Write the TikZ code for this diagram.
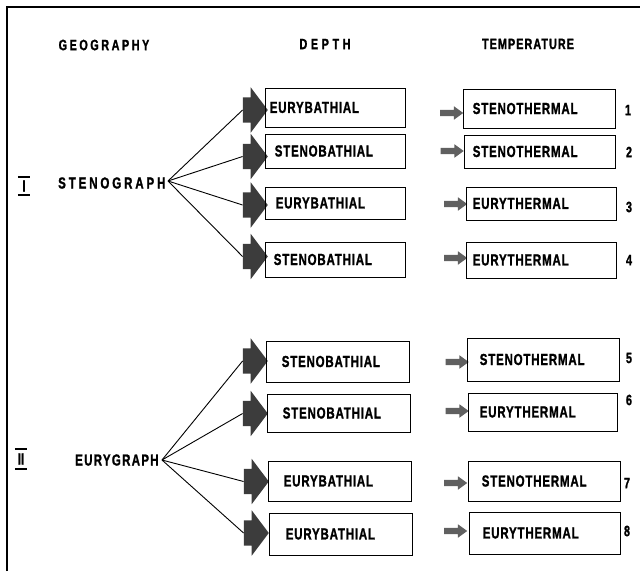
\documentclass[tikz,border=0pt]{standalone}
\usepackage{fontspec}
\setmainfont{Liberation Sans}[FakeStretch=0.72, BoldFeatures={FakeBold=1.2}]
\usetikzlibrary{shapes.arrows}
\definecolor{arrdark}{HTML}{3C3C3C}
\definecolor{arrgray}{HTML}{606060}
\tikzset{
  bx/.style={draw, line width=0.9pt, inner sep=0pt},
  lab/.style={inner sep=0pt, font=\fontsize{16}{16}\selectfont\bfseries\addfontfeature{LetterSpace=5}},
  head/.style={inner sep=0pt, font=\fontsize{15}{15}\selectfont\bfseries},
  grp/.style={inner sep=0pt, font=\fontsize{16}{16}\selectfont\bfseries},
  num/.style={inner sep=0pt, font=\fontsize{15}{15}\selectfont\bfseries},
  bigarr/.style={single arrow, fill=arrdark, draw=none, inner sep=0pt,
    text height=12.5pt, text depth=12.5pt,
    minimum height=25pt, minimum width=45pt, single arrow head extend=10pt,
    single arrow head indent=0pt, single arrow tip angle=106},
  smallarr/.style={single arrow, fill=arrgray, draw=none, inner sep=0pt,
    text height=3pt, text depth=3pt,
    minimum height=23pt, minimum width=13pt, single arrow head extend=3.5pt,
    single arrow head indent=0pt, single arrow tip angle=72},
  conn/.style={line width=0.9pt},
  roman/.style={inner sep=0pt, font=\fontsize{16}{16}\selectfont\bfseries},
  bar/.style={line width=1.6pt}
}
\newcommand\bxx[7]{%
  \node[bx, minimum width=#4pt, minimum height=#5pt] (#1) at (#2,#3) {};
  \node[lab, anchor=west] (#1t) at ([xshift=#6pt]#1.west) {#7};}
\begin{document}
\begin{tikzpicture}[x=1pt,y=-1pt]
\useasboundingbox (0,0) rectangle (640,571);
\fill[white] (0,0) rectangle (640,571);
% frame
\draw[line width=2pt] (7,571) -- (7,7) -- (640,7);
% headings
\node[head] (h1) at (104,45) {\addfontfeature{LetterSpace=17}GEOGRAPHY};
\node[head] (h2) at (325,44) {\addfontfeature{LetterSpace=24}DEPTH};
\node[head] (h3) at (528,44) {\addfontfeature{LetterSpace=7}TEMPERATURE};
% group I
\node[roman, minimum width=12pt, minimum height=18pt] (r1) at (24,186) {I};
\draw[bar] (r1.north west) -- (r1.north east);
\draw[bar] (r1.south west) -- (r1.south east);
\node[grp, anchor=west] (sg) at (58,183) {\addfontfeature{LetterSpace=18}STENOGRAPH};
\coordinate (sgo) at (168,181);
\node[bigarr] (a1) at (250.5,110) {};
\node[bigarr] (a2) at (250.5,156.5) {};
\node[bigarr] (a3) at (250.5,205) {};
\node[bigarr] (a4) at (250.5,256.5) {};
\foreach \a in {a1,a2,a3,a4} \draw[conn] (sgo) -- (\a.west);
\bxx{d1}{335}{107.5}{140}{39}{5}{EURYBATHIAL}
\bxx{d2}{335}{151}{140}{34}{10}{STENOBATHIAL}
\bxx{d3}{335}{203}{140}{32}{11}{EURYBATHIAL}
\bxx{d4}{335}{259.5}{140}{35}{9}{STENOBATHIAL}
\node[smallarr] (s1) at (449.5,113) {};
\node[smallarr] (s2) at (450,151) {};
\node[smallarr] (s3) at (453.5,204) {};
\node[smallarr] (s4) at (453.5,258) {};
\bxx{t1}{539}{108.5}{152}{39}{10}{STENOTHERMAL}
\bxx{t2}{539.5}{151.5}{151}{33}{9}{STENOTHERMAL}
\bxx{t3}{541}{203.5}{150}{33}{7}{EURYTHERMAL}
\bxx{t4}{541}{260}{150}{36}{7}{EURYTHERMAL}
\node[num] (n1) at (628,110) {1};
\node[num] (n2) at (629,152) {2};
\node[num] (n3) at (629,207) {3};
\node[num] (n4) at (629,260) {4};
% group II
\node[roman, minimum width=12pt, minimum height=20pt] (r2) at (21,459) {II};
\draw[bar] (r2.north west) -- (r2.north east);
\draw[bar] (r2.south west) -- (r2.south east);
\node[grp, anchor=west] (eg) at (75,460) {\addfontfeature{LetterSpace=8}EURYGRAPH};
\coordinate (ego) at (162,460);
\node[bigarr] (a5) at (250.5,361) {};
\node[bigarr] (a6) at (250.5,413.5) {};
\node[bigarr] (a7) at (251.5,481.5) {};
\node[bigarr] (a8) at (251.5,533) {};
\foreach \a in {a5,a6,a7,a8} \draw[conn] (ego) -- (\a.west);
\bxx{d5}{337.5}{361.5}{143}{41}{16}{STENOBATHIAL}
\bxx{d6}{338.5}{413}{143}{38}{16}{STENOBATHIAL}
\bxx{d7}{339.5}{481}{143}{40}{16}{EURYBATHIAL}
\bxx{d8}{340.5}{534}{143}{42}{17}{EURYBATHIAL}
\node[smallarr] (s5) at (455,362) {};
\node[smallarr] (s6) at (455,411) {};
\node[smallarr] (s7) at (453.5,483) {};
\node[smallarr] (s8) at (453.5,531) {};
\bxx{t5}{543}{359.5}{152}{43}{13}{STENOTHERMAL}
\bxx{t6}{542.5}{412}{149}{38}{12}{EURYTHERMAL}
\bxx{t7}{544}{481}{152}{40}{14}{STENOTHERMAL}
\bxx{t8}{544.5}{533}{151}{42}{14}{EURYTHERMAL}
\node[num] (n5) at (629,358) {5};
\node[num] (n6) at (629,400) {6};
\node[num] (n7) at (627,483) {7};
\node[num] (n8) at (627,531) {8};
\end{tikzpicture}
\end{document}
